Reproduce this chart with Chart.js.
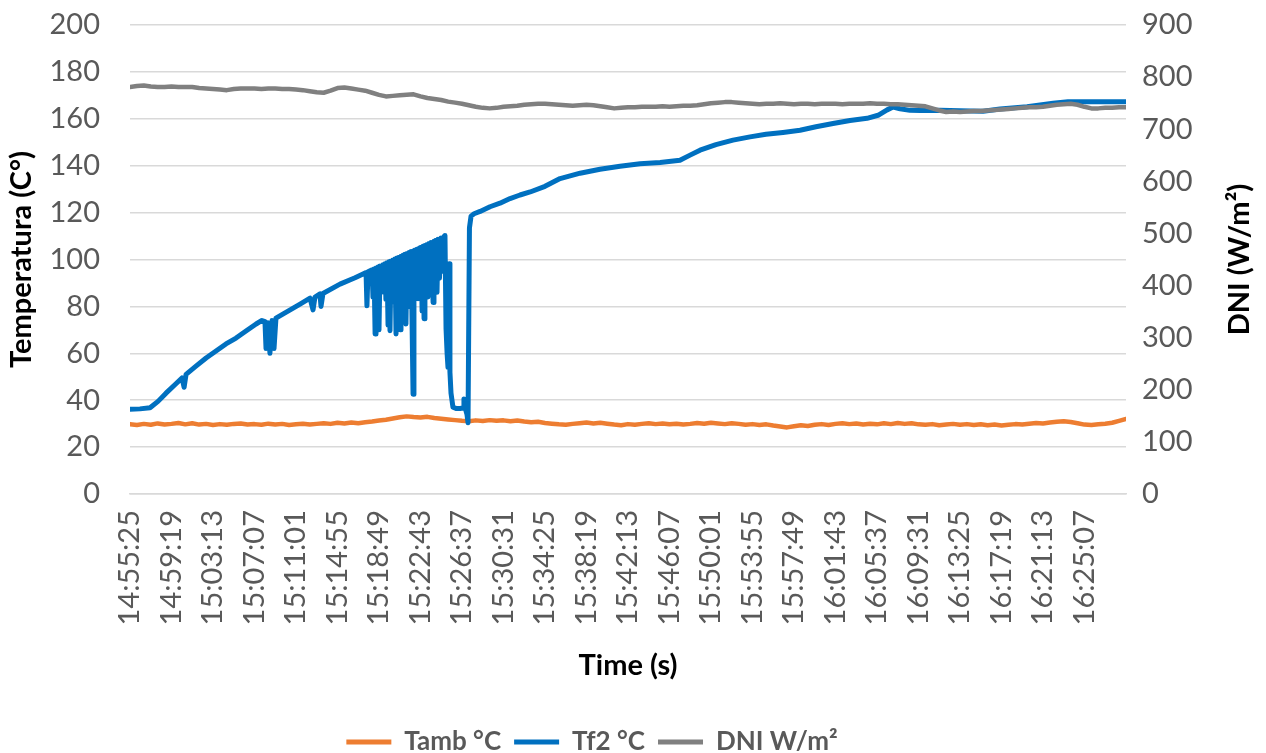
<!DOCTYPE html>
<html>
<head>
<meta charset="utf-8">
<script src="https://cdn.jsdelivr.net/npm/chart.js@4.4.0/dist/chart.umd.min.js"></script>
<style>
  html, body { margin: 0; padding: 0; background: #fff; }
</style>
</head>
<body>
<canvas id="myChart" width="1266" height="753"></canvas>
<script>
// tick labels on the time axis (clock time)
const timeLabels = ['14:55:25', '14:59:19', '15:03:13', '15:07:07', '15:11:01', '15:14:55',
    '15:18:49', '15:22:43', '15:26:37', '15:30:31', '15:34:25', '15:38:19', '15:42:13',
    '15:46:07', '15:50:01', '15:53:55', '15:57:49', '16:01:43', '16:05:37', '16:09:31',
    '16:13:25', '16:17:19', '16:21:13', '16:25:07'];

// Tamb and DNI are logged every 39 s from 14:55:25
const logStep = 39;
const tambVals = [29.8, 29.4, 29.9, 29.5, 30.1, 29.6, 29.9, 30.3, 29.7, 30.2,
    29.6, 29.9, 29.4, 29.8, 29.5, 29.9, 30.1, 29.6, 29.8, 29.5,
    30.0, 29.6, 29.9, 29.4, 29.7, 30.0, 29.6, 29.9, 30.2, 29.9,
    30.4, 30.1, 30.5, 30.2, 30.6, 30.9, 31.3, 31.7, 32.2, 32.7,
    33.1, 32.8, 32.6, 32.9, 32.4, 32.1, 31.8, 31.5, 31.2, 31.0,
    31.4, 31.1, 31.5, 31.2, 31.4, 31.0, 31.3, 30.9, 30.6, 30.8,
    30.3, 30.0, 29.7, 29.5, 29.9, 30.2, 30.5, 30.1, 30.4, 30.0,
    29.6, 29.3, 29.8, 29.5, 29.9, 30.2, 29.8, 30.1, 29.7, 30.0,
    29.6, 29.9, 30.3, 30.0, 30.4, 30.1, 29.8, 30.2, 29.9, 29.5,
    29.8, 29.4, 29.7, 29.2, 28.8, 28.4, 28.9, 29.3, 29.0, 29.5,
    29.8, 29.4, 29.9, 30.2, 29.8, 30.1, 29.6, 30.0, 29.7, 30.2,
    29.8, 30.3, 29.9, 30.2, 29.7, 29.5, 29.8, 29.3, 29.6, 29.9,
    29.5, 29.8, 29.4, 29.7, 29.3, 29.6, 29.2, 29.5, 29.8, 29.6,
    30.0, 30.3, 30.1, 30.5, 30.8, 31.0, 30.7, 30.2, 29.6, 29.4,
    29.7, 30.0, 30.4, 31.2, 32.0];
const dniVals = [781, 783, 784, 782, 781, 781, 782, 781, 781, 781,
    779, 778, 777, 776, 775, 777, 778, 778, 778, 777,
    778, 778, 777, 777, 776, 775, 773, 771, 770, 774,
    779, 780, 778, 776, 774, 770, 766, 763, 764, 765,
    766, 767, 763, 760, 758, 756, 753, 751, 749, 746,
    743, 741, 740, 741, 743, 744, 745, 747, 748, 749,
    749, 748, 747, 746, 745, 746, 747, 746, 744, 742,
    740, 741, 742, 742, 743, 743, 743, 744, 743, 744,
    745, 745, 746, 748, 750, 751, 752, 752, 751, 750,
    749, 748, 749, 749, 750, 749, 748, 749, 749, 748,
    749, 749, 749, 748, 749, 749, 749, 750, 749, 749,
    748, 748, 747, 746, 745, 744, 740, 736, 733, 734,
    733, 734, 735, 735, 736, 737, 738, 739, 740, 741,
    742, 742, 743, 745, 747, 748, 749, 747, 743, 740,
    740, 741, 741, 742, 742];

// Tf2 readings, seconds after 14:55:25 (denser where the sensor drops out)
const tf2Sec = [0, 56, 113, 158, 203, 259, 293, 305, 316, 372,
    429, 485, 541, 598, 654, 711, 744, 761, 767, 778,
    789, 801, 812, 823, 891, 959, 1015, 1032, 1043, 1071,
    1077, 1088, 1184, 1269, 1308, 1331, 1336, 1342, 1365, 1370,
    1376, 1382, 1387, 1393, 1398, 1404, 1410, 1421, 1427, 1432,
    1438, 1443, 1449, 1455, 1460, 1466, 1472, 1477, 1483, 1488,
    1494, 1500, 1506, 1511, 1517, 1523, 1528, 1534, 1539, 1545,
    1551, 1556, 1562, 1568, 1573, 1579, 1585, 1596, 1601, 1607,
    1612, 1618, 1624, 1630, 1641, 1647, 1652, 1658, 1663, 1669,
    1675, 1680, 1686, 1692, 1697, 1709, 1714, 1720, 1726, 1731,
    1737, 1745, 1754, 1762, 1771, 1776, 1782, 1788, 1793, 1799,
    1804, 1810, 1821, 1838, 1861, 1878, 1883, 1889, 1900, 1906,
    1914, 1923, 1940, 1974, 2030, 2086, 2143, 2199, 2256, 2340,
    2425, 2538, 2650, 2763, 2876, 2989, 3101, 3158, 3214, 3304,
    3400, 3496, 3586, 3682, 3778, 3868, 3964, 4060, 4156, 4218,
    4269, 4303, 4342, 4398, 4455, 4568, 4680, 4810, 4906, 5058,
    5205, 5289, 5413, 5616];
const tf2Vals = [36.1, 36.3, 36.8, 39.5, 43, 47, 49.5, 45.5, 51, 54.5,
    58, 61, 64, 66.5, 69.5, 72.5, 74, 73.5, 62, 73,
    60, 74, 62, 75, 78, 81, 83.5, 78.5, 84, 85.3,
    80, 85.5, 89.5, 92.2, 93.6, 94.4, 80.3, 94.8, 95.6, 84,
    96, 68.2, 96.4, 76, 96.8, 70, 97.2, 88, 97.8, 86,
    98.2, 83, 98.6, 72, 99, 69.6, 99.4, 85, 99.8, 82,
    100.2, 68.2, 100.6, 75, 101, 70, 101.4, 84, 101.8, 86,
    102.2, 72.5, 102.6, 80, 103, 88, 103.4, 42.5, 103.8, 104,
    90, 104.4, 83.3, 104.8, 105.2, 78, 105.6, 74.7, 106, 88,
    106.4, 84, 106.8, 85, 107.2, 81.7, 107.8, 90, 108.2, 86,
    108.6, 92, 109.2, 95, 109.8, 110.2, 70.5, 60, 54, 98.2,
    52, 43, 37, 36.5, 36.5, 36.7, 40.5, 37, 34, 30.4,
    113.5, 118.5, 119.5, 120.5, 122.5, 124, 126, 127.5, 128.8, 131.2,
    134.5, 136.8, 138.5, 139.8, 140.8, 141.4, 142.3, 144.5, 146.6, 149,
    150.9, 152.3, 153.4, 154.2, 155.1, 156.6, 158, 159.3, 160.2, 161.5,
    163.8, 165, 164.3, 163.6, 163.5, 163.6, 163.4, 163.2, 164.2, 165.1,
    166.6, 167.3, 167.3, 167.3];

const toSec = s => { const p = s.split(':').map(Number); return p[0] * 3600 + p[1] * 60 + p[2]; };
const tickSec = timeLabels.map(s => toSec(s) - toSec(timeLabels[0]));

const lastSec = (tambVals.length - 1) * logStep;
const logged = vals => vals.map((v, i) => ({ x: i * logStep, y: v }));

Chart.defaults.font.family = 'Lato';
Chart.defaults.color = '#595959';

// right axis title reads bottom-to-top like the left one
const dniTitle = {
    id: 'dniTitle',
    afterDraw(chart) {
        const { ctx, chartArea } = chart;
        const sc = chart.scales.yDni;
        ctx.save();
        ctx.translate(sc.right - 26, (chartArea.top + chartArea.bottom) / 2);
        ctx.rotate(-Math.PI / 2);
        ctx.font = 'bold 29px Lato';
        ctx.fillStyle = '#000';
        ctx.textAlign = 'center';
        ctx.textBaseline = 'middle';
        ctx.fillText('DNI (W/m²)', 0, 0);
        ctx.restore();
    }
};

// legend sits a little left of centre
const legendShift = {
    id: 'legendShift',
    afterLayout(chart) {
        chart.legend.left -= 41;
        chart.legend.right -= 41;
    }
};

const ctx = document.getElementById('myChart').getContext('2d');

new Chart(ctx, {
    type: 'line',
    data: {
        datasets: [{
            label: 'Tamb °C',
            data: logged(tambVals),
            borderColor: '#ED7D31',
            backgroundColor: '#ED7D31',
            borderWidth: 4.5,
            yAxisID: 'yTemp',
            order: 2
        }, {
            label: 'Tf2 °C',
            data: tf2Sec.map((s, i) => ({ x: s, y: tf2Vals[i] })),
            borderColor: '#0070C0',
            backgroundColor: '#0070C0',
            borderWidth: 5,
            yAxisID: 'yTemp',
            order: 1
        }, {
            label: 'DNI W/m²',
            data: logged(dniVals),
            borderColor: '#808080',
            backgroundColor: '#808080',
            borderWidth: 4.5,
            yAxisID: 'yDni',
            order: 0
        }]
    },
    options: {
        responsive: false,
        animation: false,
        elements: { point: { radius: 0 }, line: { tension: 0, borderJoinStyle: 'round', borderCapStyle: 'round' } },
        layout: { padding: { left: 0, right: 0, top: 25, bottom: -12 } },
        plugins: {
            tooltip: { enabled: false },
            legend: {
                position: 'bottom',
                labels: {
                    boxWidth: 45,
                    boxHeight: 5,
                    padding: 13,
                    color: '#595959',
                    font: { size: 26, weight: 'bold' },
                    sort: (a, b) => a.datasetIndex - b.datasetIndex,
                    generateLabels(chart) {
                        return Chart.defaults.plugins.legend.labels.generateLabels(chart)
                            .map(l => Object.assign(l, { lineWidth: 0 }));
                    }
                }
            }
        },
        scales: {
            x: {
                type: 'linear',
                min: 0,
                max: lastSec,
                afterBuildTicks(scale) { scale.ticks = tickSec.map(v => ({ value: v })); },
                afterFit(scale) { scale.height = 222; },
                ticks: {
                    autoSkip: false,
                    minRotation: 90,
                    maxRotation: 90,
                    padding: 16,
                    font: { size: 29 },
                    callback: (v, i) => timeLabels[i]
                },
                grid: { display: false, drawTicks: false },
                border: { display: true, color: '#d9d9d9', width: 1.5 },
                title: {
                    display: true,
                    text: 'Time (s)',
                    color: '#000',
                    font: { size: 29, weight: 'bold' },
                    padding: { top: 0, bottom: 33 }
                }
            },
            yTemp: {
                position: 'left',
                min: 0,
                max: 200,
                afterFit(scale) { scale.width = 130; },
                ticks: { stepSize: 20, padding: 3, font: { size: 29 } },
                grid: { color: '#d9d9d9', lineWidth: 1.5, drawTicks: true, tickLength: 27, tickColor: 'rgba(0,0,0,0)' },
                border: { display: false },
                title: {
                    display: true,
                    text: 'Temperatura (C°)',
                    color: '#000',
                    font: { size: 29, weight: 'bold' },
                    padding: { top: 4, bottom: 0 }
                }
            },
            yDni: {
                position: 'right',
                min: 0,
                max: 900,
                afterFit(scale) { scale.width = 140; },
                ticks: { stepSize: 100, padding: 3, font: { size: 29 } },
                grid: { drawOnChartArea: false, drawTicks: true, tickLength: 13, tickColor: 'rgba(0,0,0,0)' },
                border: { display: false }
            }
        }
    },
    plugins: [dniTitle, legendShift]
});
</script>
</body>
</html>
